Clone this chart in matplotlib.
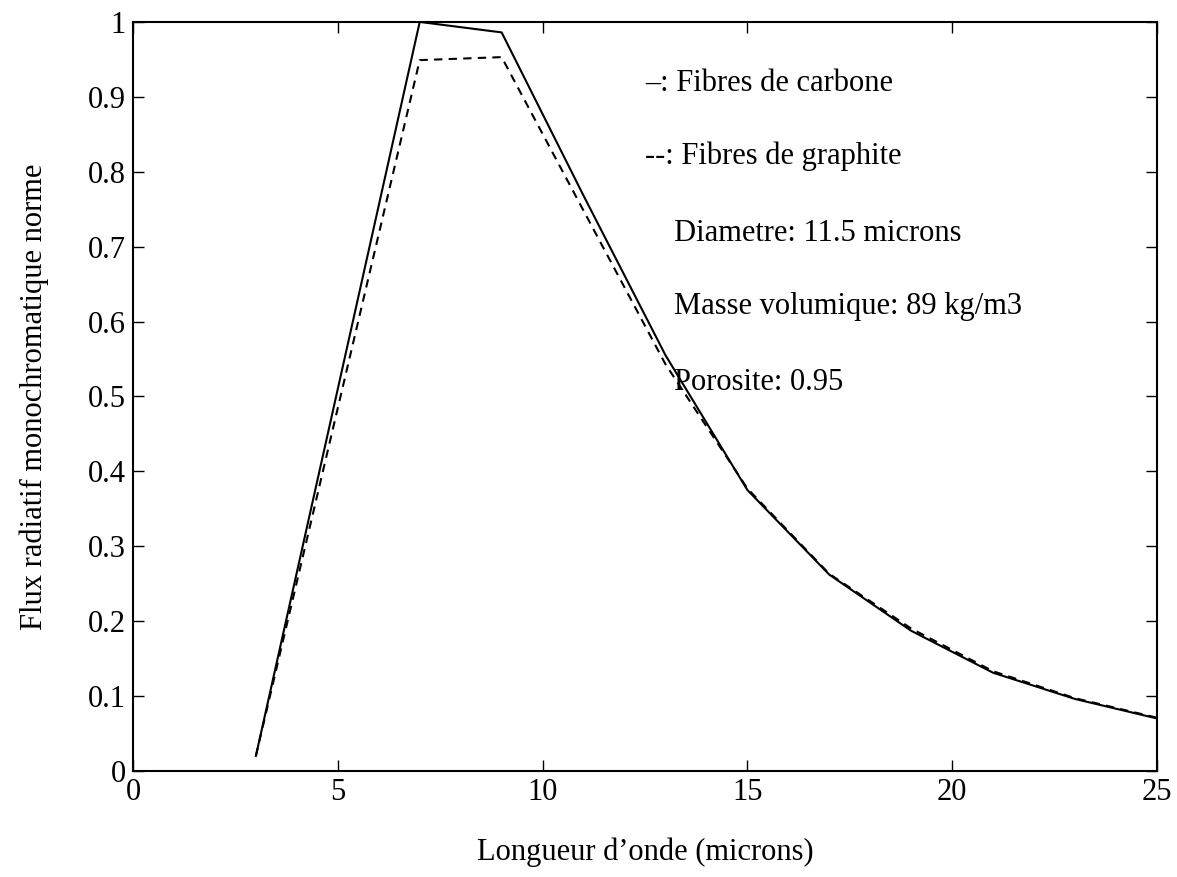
import matplotlib.pyplot as plt
from matplotlib.ticker import FuncFormatter

plt.rcParams['font.family'] = ['Liberation Serif', 'DejaVu Serif']

# wavelength (microns) and normalised monochromatic radiative flux
wavelength = [3, 7, 9, 11, 13, 15, 17, 19, 21, 23, 25]
flux_carbone = [0.02, 1.0, 0.986, 0.768, 0.555, 0.375, 0.262, 0.187, 0.131, 0.096, 0.070]
flux_graphite = [0.02, 0.949, 0.953, 0.748, 0.543, 0.377, 0.263, 0.190, 0.133, 0.097, 0.071]

notes = [
    ('\u2013: Fibres de carbone', 12.5, 0.918),
    ('--: Fibres de graphite', 12.5, 0.82),
    ('Diametre: 11.5 microns', 13.2, 0.718),
    ('Masse volumique: 89 kg/m3', 13.2, 0.62),
    ('Porosite: 0.95', 13.2, 0.518),
]

fig = plt.figure(figsize=(11.77, 8.77), dpi=100)
ax = fig.add_axes([0.113, 0.121, 0.870, 0.854])

ax.plot(wavelength, flux_carbone, 'k-', lw=1.5)
ax.plot(wavelength, flux_graphite, 'k--', lw=1.5, dashes=(4, 3))

for txt, x, y in notes:
    ax.text(x, y, txt, fontsize=22, va='center', ha='left')

ax.set_xlim(0, 25)
ax.set_ylim(0, 1)
ax.set_xticks([0, 5, 10, 15, 20, 25])
ax.set_yticks([i / 10 for i in range(11)])
ax.yaxis.set_major_formatter(FuncFormatter(lambda v, p: '%g' % round(v, 2)))
ax.tick_params(direction='in', top=True, right=True, labelsize=22, length=8, width=1, pad=5)
for s in ax.spines.values():
    s.set_linewidth(1.5)

ax.set_xlabel('Longueur d\u2019onde (microns)', fontsize=22, labelpad=22)
ax.set_ylabel('Flux radiatif monochromatique norme', fontsize=22, labelpad=28)

fig.savefig('out.png', dpi=100)
